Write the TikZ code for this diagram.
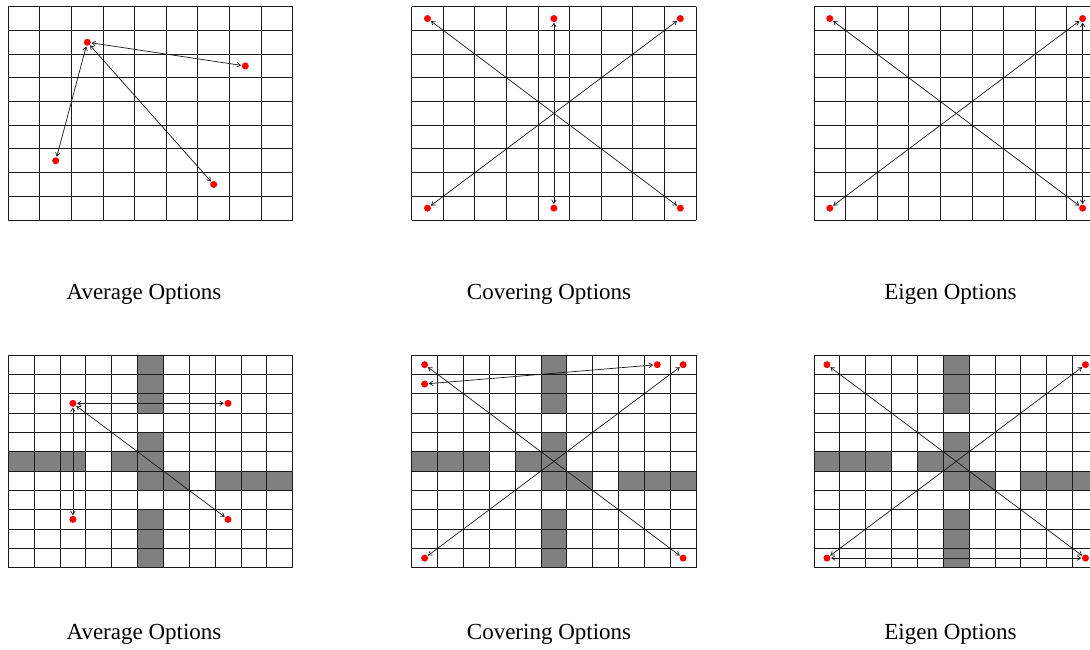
\documentclass[tikz,border=0pt]{standalone}
\usepackage{fontspec}
\setmainfont{Liberation Serif}
\usetikzlibrary{arrows.meta}
\newcommand\fourroomwalls{%
  \foreach \c/\r in {5/0,5/1,5/2,5/4,5/5,5/6,5/8,5/9,5/10,0/5,1/5,2/5,4/5,6/6,8/6,9/6,10/6}
    \fill[wall] (\c,\r) rectangle ++(1,1);}
\newcommand\gridlines[1]{%
  \foreach \i in {0,...,#1} {
    \draw[gridline] (\i,0) -- (\i,#1);
    \draw[gridline] (0,\i) -- (#1,\i);}}
\begin{document}
\begin{tikzpicture}[x=1pt,y=-1pt,
  gridline/.style={line width=0.9pt, draw=black!90},
  wall/.style={fill=black!50},
  dot/.style={circle, fill=red, inner sep=0pt, minimum size=7pt},
  opt/.style={{Straight Barb[length=3.5pt,width=4.5pt]}-{Straight Barb[length=3.5pt,width=4.5pt]}, line width=0.7pt, draw=black!90, shorten <=0.5pt, shorten >=0.5pt},
  lbl/.style={font=\fontsize{23}{27}\selectfont, anchor=base, inner sep=0pt}]
\useasboundingbox (0,0) rectangle (1090,649);
\clip (0,0) rectangle (1090,649);

% ---------- top row: 9x9 grids ----------
\begin{scope}[shift={(8.3,6.7)}, x=31.6pt, y=-23.7pt]
  \gridlines{9}
  \node[dot] (a0) at (2.5,1.5) {};
  \node[dot] (a1) at (7.5,2.5) {};
  \node[dot] (a2) at (1.5,6.5) {};
  \node[dot] (a3) at (6.5,7.5) {};
  \draw[opt] (a0) -- (a1);
  \draw[opt] (a0) -- (a2);
  \draw[opt] (a0) -- (a3);
\end{scope}

\begin{scope}[shift={(411.7,6.7)}, x=31.6pt, y=-23.7pt]
  \gridlines{9}
  \node[dot] (c0) at (0.5,0.5) {};
  \node[dot] (c1) at (4.5,0.5) {};
  \node[dot] (c2) at (8.5,0.5) {};
  \node[dot] (c3) at (0.5,8.5) {};
  \node[dot] (c4) at (4.5,8.5) {};
  \node[dot] (c5) at (8.5,8.5) {};
  \draw[opt] (c0) -- (c5);
  \draw[opt] (c2) -- (c3);
  \draw[opt] (c1) -- (c4);
\end{scope}

\begin{scope}[shift={(814,6.7)}, x=31.6pt, y=-23.7pt]
  \gridlines{9}
  \node[dot] (e0) at (0.5,0.5) {};
  \node[dot] (e1) at (8.5,0.5) {};
  \node[dot] (e2) at (0.5,8.5) {};
  \node[dot] (e3) at (8.5,8.5) {};
  \draw[opt] (e0) -- (e3);
  \draw[opt] (e1) -- (e2);
  \draw[opt] (e1) -- (e3);
\end{scope}

% ---------- bottom row: 11x11 four-room grids ----------
\begin{scope}[shift={(8.3,355)}, x=25.85pt, y=-19.34pt]
  \fourroomwalls
  \gridlines{11}
  \node[dot] (b0) at (2.5,2.5) {};
  \node[dot] (b1) at (8.5,2.5) {};
  \node[dot] (b2) at (2.5,8.5) {};
  \node[dot] (b3) at (8.5,8.5) {};
  \draw[opt] (b0) -- (b1);
  \draw[opt] (b0) -- (b2);
  \draw[opt] (b0) -- (b3);
\end{scope}

\begin{scope}[shift={(411.7,355)}, x=25.85pt, y=-19.34pt]
  \fourroomwalls
  \gridlines{11}
  \node[dot] (d0) at (0.5,0.5) {};
  \node[dot] (d1) at (0.5,1.5) {};
  \node[dot] (d2) at (9.5,0.5) {};
  \node[dot] (d3) at (10.5,0.5) {};
  \node[dot] (d4) at (0.5,10.5) {};
  \node[dot] (d5) at (10.5,10.5) {};
  \draw[opt] (d0) -- (d5);
  \draw[opt] (d3) -- (d4);
  \draw[opt] (d1) -- (d2);
\end{scope}

\begin{scope}[shift={(814,355)}, x=25.85pt, y=-19.34pt]
  \fourroomwalls
  \gridlines{11}
  \node[dot] (f0) at (0.5,0.5) {};
  \node[dot] (f1) at (10.5,0.5) {};
  \node[dot] (f2) at (0.5,10.5) {};
  \node[dot] (f3) at (10.5,10.5) {};
  \draw[opt] (f0) -- (f3);
  \draw[opt] (f1) -- (f2);
  \draw[opt] (f2) -- (f3);
\end{scope}

% ---------- labels ----------
\node[lbl] (l1) at (144,299) {Average Options};
\node[lbl] (l2) at (549,299) {Covering Options};
\node[lbl] (l3) at (950.5,299) {Eigen Options};
\node[lbl] (l4) at (144,639) {Average Options};
\node[lbl] (l5) at (549,639) {Covering Options};
\node[lbl] (l6) at (950.5,639) {Eigen Options};
\end{tikzpicture}
\end{document}
